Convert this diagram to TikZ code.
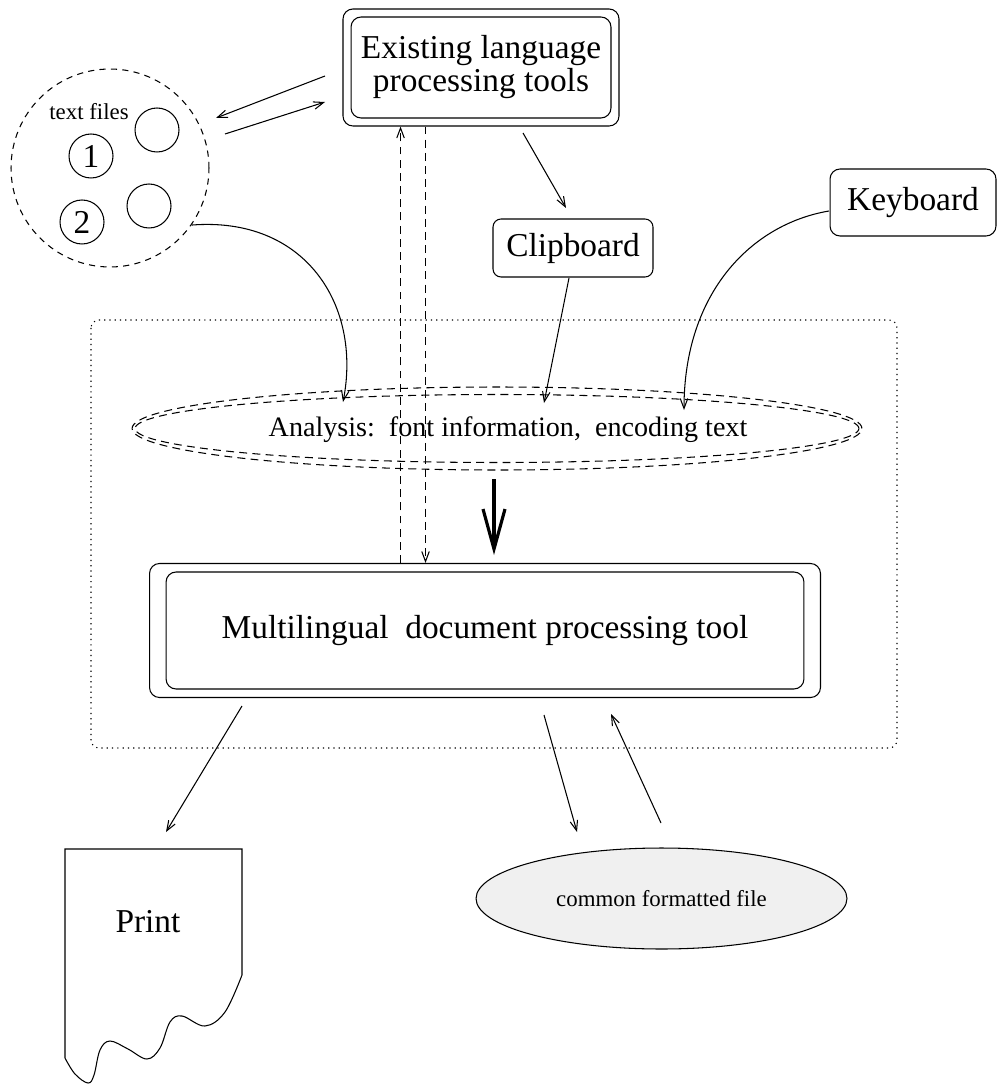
\documentclass[tikz,border=0pt]{standalone}
\usepackage{fontspec}
\setmainfont{Liberation Serif}
\usetikzlibrary{arrows.meta,shapes.geometric,fit}

\definecolor{fileshade}{HTML}{F0F0F0}

\begin{document}
\begin{tikzpicture}[
    x=0.02cm, y=-0.02cm, line width=0.6pt,
    bigfont/.style={font=\fontsize{19}{18.8}\selectfont},
    box/.style={draw, rounded corners=0.2cm, align=center, inner sep=0pt, bigfont},
    frame/.style={draw, rounded corners=0.2cm},
    filecircle/.style={draw, circle, minimum size=0.88cm, inner sep=0pt, bigfont},
    dashline/.style={dash pattern=on 4.5pt off 3pt},
    dotline/.style={dash pattern=on 0.7pt off 2.3pt},
    arr/.style={-{Straight Barb[length=2mm,width=1.5mm]}},
]
\useasboundingbox (0,0) rectangle (997,1084);

% boxes
\node[box, minimum width=5.2cm, minimum height=2.02cm] (tools) at (481,67.5) {Existing language\\processing tools};
\node[frame, fit=(tools), inner sep=0.15cm] (toolsframe) {};

\node[box, rounded corners=0.16cm, minimum width=3.2cm, minimum height=1.16cm] (clip) at (573,248) {Clipboard};
\node[box, minimum width=3.32cm, minimum height=1.34cm] (keys) at (913,202.5) {Keyboard};

\node[box, minimum width=12.76cm, minimum height=2.34cm] (multi) at (485,630.5) {Multilingual\ \ document processing tool};
\node[frame, fit=(multi), inner xsep=0.32cm, inner ysep=0.16cm] (multiframe) {};

% text files
\node[draw, circle, dash pattern=on 3.5pt off 3pt, minimum size=3.96cm, inner sep=0pt] (files) at (110,168) {};
\node[font=\fontsize{13}{13}\selectfont] (fileslabel) at (89,112) {text files};
\node[filecircle] (f1) at (91,156) {1};
\node[filecircle] (f2) at (82,222) {2};
\node[filecircle] (f3) at (157,130) {};
\node[filecircle] (f4) at (149,206) {};

% analysis
\draw[dotline, rounded corners=0.16cm] (91,320) rectangle (897,748);
\node[draw, ellipse, dashline, minimum width=14.6cm, minimum height=1.66cm, inner sep=0pt] (analysis) at (497,428.5) {};
\node[draw, ellipse, dashline, minimum width=14.48cm, minimum height=1.36cm, inner sep=0pt] (analysisin) at (analysis.center) {};
\node[font=\fontsize{16}{16}\selectfont] (analysistext) at (508,430) {Analysis:\ \ font information,\ \ encoding text};

% outputs
\draw (65,1058) -- (65,849) -- (242,849) -- (242,975)
    plot[smooth, tension=0.6] coordinates {(242,975) (225,1012) (205,1026) (182,1016) (170,1022)
        (160,1048) (147,1059) (128,1049) (110,1041) (100,1050) (94,1075) (88,1083) (75,1074) (65,1058)};
\node[bigfont] (print) at (148,922) {Print};
\node[draw, ellipse, fill=fileshade, minimum width=7.42cm, minimum height=2.02cm, inner sep=0pt,
    font=\fontsize{13}{13}\selectfont] (common) at (661.5,898.5) {common formatted file};

% connector ends
\coordinate (toolsout) at (325,76);
\coordinate (filesin) at (216,118);
\coordinate (filesout) at (225,134);
\coordinate (toolsin) at (325,102);
\coordinate (clipin) at (566,208);
\coordinate (toolsbottom) at (523,133);
\coordinate (clipout) at (569,278);
\coordinate (anaclip) at (544,403);
\coordinate (anafiles) at (343,402);
\coordinate (anakeys) at (684,410);
\coordinate (keysout) at (829,211);
\coordinate (thicktop) at (494,479);
\coordinate (thickend) at (494,555);
\coordinate (multiprint) at (242,706);
\coordinate (printin) at (166,832);
\coordinate (multicommon) at (544,715);
\coordinate (commonin) at (577,832);
\coordinate (commonout) at (661,823);
\coordinate (multiin) at (611,714);

\draw[arr] (toolsout) -- (filesin);
\draw[arr] (filesout) -- (toolsin);
\draw[arr, dashline] ([xshift=-1.69cm]multiframe.north) -- ([xshift=-1.69cm]multiframe.north |- toolsframe.south);
\draw[arr, dashline] ([xshift=-1.19cm]multiframe.north |- toolsframe.south) -- ([xshift=-1.19cm]multiframe.north);
\draw[arr] (toolsbottom) -- (clipin);
\draw[arr] (clipout) -- (anaclip);
\draw[arr] (files.-35) .. controls (305,216) and (362,305) .. (anafiles);
\draw[arr] (keysout) .. controls (752,224) and (684,292) .. (anakeys);
\draw[line width=1.8pt, -{Straight Barb[length=8mm,width=4.4mm]}] (thicktop) -- (thickend);
\draw[arr] (multiprint) -- (printin);
\draw[arr] (multicommon) -- (commonin);
\draw[arr] (commonout) -- (multiin);
\end{tikzpicture}
\end{document}
